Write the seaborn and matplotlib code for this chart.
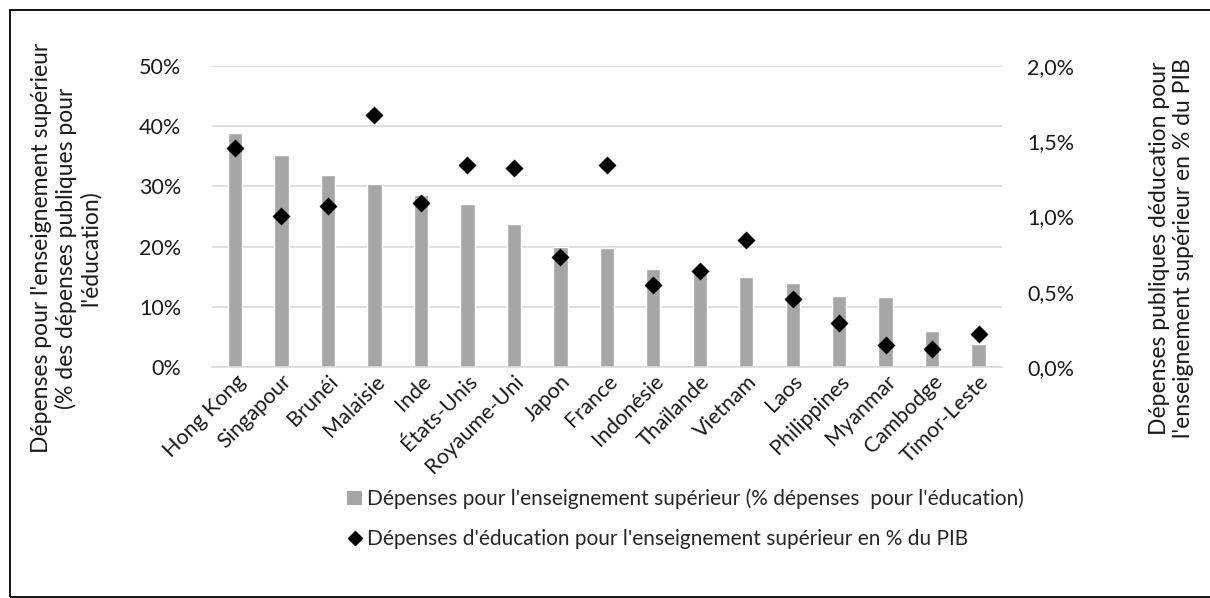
import matplotlib
matplotlib.use("Agg")
import matplotlib.pyplot as plt
import seaborn as sns
import pandas as pd
from matplotlib.patches import Patch, Rectangle
from matplotlib.lines import Line2D
from matplotlib.ticker import FuncFormatter

countries = ["Hong Kong", "Singapour", "Brunéi", "Malaisie", "Inde", "États-Unis",
             "Royaume-Uni", "Japon", "France", "Indonésie", "Thaïlande", "Vietnam",
             "Laos", "Philippines", "Myanmar", "Cambodge", "Timor-Leste"]
share_edu = [38.9, 35.2, 31.8, 30.4, 28.5, 27.1, 23.8, 19.9, 19.7, 16.3, 16.0, 14.9,
             13.9, 11.8, 11.6, 6.0, 3.8]
share_gdp = [1.457, 1.002, 1.067, 1.673, 1.091, 1.34, 1.322, 0.729, 1.344, 0.544,
             0.636, 0.844, 0.451, 0.296, 0.147, 0.118, 0.218]

bar_label = "Dépenses pour l'enseignement supérieur (% dépenses  pour l'éducation)"
pt_label = "Dépenses d'éducation pour l'enseignement supérieur en % du PIB"
left_ylabel = "Dépenses pour l'enseignement supérieur\n(% des dépenses publiques pour\nl'éducation)"
right_ylabel = "Dépenses publiques déducation pour\nl'enseignement supérieur en % du PIB"

df = pd.DataFrame({"pays": countries, "edu": share_edu, "pib": share_gdp})

sns.set_theme(style="white")
plt.rcParams["font.family"] = ["Lato", "DejaVu Sans"]
txt_color = "#1a1a1a"

fig = plt.figure(figsize=(12.1, 5.98), dpi=100)
ax = fig.add_axes([0.175, 0.386, 0.653, 0.504])

bar_color = "#a6a6a6"
sns.barplot(data=df, x="pays", y="edu", color=bar_color, width=0.31, ax=ax,
            saturation=1, zorder=2)
ax.set_ylim(0, 50)
ax.set_yticks([0, 10, 20, 30, 40, 50])
ax.yaxis.set_major_formatter(FuncFormatter(lambda v, p: f"{int(v)}%"))
ax.grid(axis="y", color="#d9d9d9", linewidth=1.2, zorder=0)
ax.set_axisbelow(True)
for s in ["top", "right", "left"]:
    ax.spines[s].set_visible(False)
ax.spines["bottom"].set_color("#d9d9d9")
ax.spines["bottom"].set_linewidth(1.2)
ax.tick_params(axis="y", length=0, labelsize=15.5, colors=txt_color, pad=22)
ax.tick_params(axis="x", length=0, labelsize=15.5, colors=txt_color, pad=3)
ax.set_xlabel("")
ax.set_ylabel("")
ax.set_xlim(-0.5, 16.5)

ax2 = ax.twinx()
sns.pointplot(data=df, x="pays", y="pib", color="black", markers="D", linestyle="none",
              markersize=7, errorbar=None, ax=ax2)
ax2.set_ylim(0, 2.0)
ax2.set_yticks([0, 0.5, 1.0, 1.5, 2.0])
ax2.yaxis.set_major_formatter(FuncFormatter(lambda v, p: f"{v:.1f}%".replace(".", ",")))
for s in ["top", "right", "left", "bottom"]:
    ax2.spines[s].set_visible(False)
ax2.tick_params(axis="y", length=0, labelsize=15.5, colors=txt_color, pad=18)
ax2.set_ylabel("")
ax2.set_xlim(-0.5, 16.5)
ax2.set_xlabel("")

for lbl in ax.get_xticklabels():
    lbl.set_rotation(45)
    lbl.set_ha("right")
    lbl.set_va("top")
    lbl.set_rotation_mode("anchor")

fig.text(0.0545, 0.585, left_ylabel, rotation=90, ha="center", va="center",
         multialignment="center", fontsize=16.5, color=txt_color, linespacing=1.15)
fig.text(0.968, 0.585, right_ylabel, rotation=90, ha="center", va="center",
         multialignment="center", fontsize=16.5, color=txt_color, linespacing=1.15)

handles = [Patch(facecolor=bar_color, edgecolor="none"),
           Line2D([], [], marker="D", color="black", linestyle="none", markersize=7)]
fig.legend(handles, [bar_label, pt_label], loc="upper left", bbox_to_anchor=(0.287, 0.183),
           ncol=1, frameon=False, fontsize=15, handlelength=0.7, handletextpad=0.25,
           labelspacing=0.95, borderaxespad=0, borderpad=0)

fig.patches.append(Rectangle((10 / 1210, 0.002), 1.1, 1 - 10 / 598 - 0.002,
                             transform=fig.transFigure, fill=False, edgecolor="black",
                             linewidth=1.3, clip_on=False))

fig.savefig("out.png", dpi=100)
